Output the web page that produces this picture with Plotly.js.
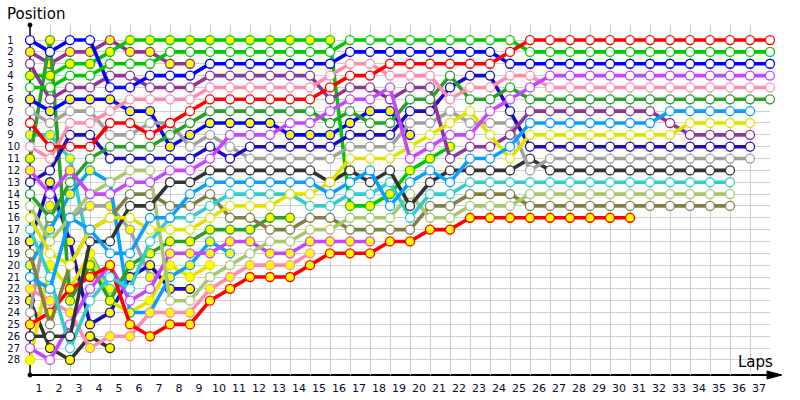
<!DOCTYPE html>
<html><head><meta charset="utf-8">
<script src="https://cdn.plot.ly/plotly-3.0.1.min.js"></script>
<style>html,body{margin:0;padding:0;background:#fff}#chart{width:800px;height:400px}</style>
</head><body><div id="chart"></div>
<script>
// ---- tick labels ----
const lapLabels = ['1','2','3','4','5','6','7','8','9','10','11','12','13','14','15','16','17','18','19','20','21','22','23','24','25','26','27','28','29','30','31','32','33','34','35','36','37'];
const posLabels = ['1','2','3','4','5','6','7','8','9','10','11','12','13','14','15','16','17','18','19','20','21','22','23','24','25','26','27','28'];

// ---- positions per lap (index = lap, lap 0 = grid) ----
const red1 = [8,10,10,10,8,8,9,8,7,6,6,6,6,6,6,5,4,4,3,3,3,3,3,3,2,1,1,1,1,1,1,1,1,1,1,1,1,1];
const lim2 = [5,5,4,4,3,3,3,2,2,2,2,2,2,2,2,2,1,1,1,1,1,1,1,1,1,2,2,2,2,2,2,2,2,2,2,2,2,2];
const blu1 = [1,2,1,1,5,5,4,4,4,3,3,3,3,3,3,3,2,2,2,2,2,2,2,2,3,3,3,3,3,3,3,3,3,3,3,3,3,3];
const vio1 = [12,14,12,14,14,13,13,12,12,11,9,9,9,8,8,7,6,6,5,11,10,9,9,7,6,5,4,4,4,4,4,4,4,4,4,4,4,4];
const pnk1 = [10,11,8,8,7,6,6,6,6,5,5,5,5,5,5,4,3,3,4,4,4,6,5,5,4,4,5,5,5,5,5,5,5,5,5,5,5,5];
const dgr2 = [14,16,13,11,10,10,10,9,8,7,7,7,7,7,7,8,7,8,8,6,6,4,6,6,5,6,6,6,6,6,6,6,6,6,6,6,6,6];
const lbl2 = [21,22,16,17,19,19,16,16,14,13,13,13,13,13,13,14,13,12,15,13,12,13,11,11,10,8,8,8,8,8,8,8,7,7,7,7,7];
const yel1 = [16,19,20,17,16,16,17,17,17,16,15,15,15,14,14,13,11,11,11,10,9,8,7,9,11,9,9,9,9,9,9,9,9,8,8,8,8];
const pur2 = [3,6,5,5,4,4,5,5,5,4,4,4,4,4,4,6,5,5,6,5,5,11,10,10,9,7,7,7,7,7,7,7,8,9,9,9,9];
const nav1 = [13,12,9,9,11,11,11,11,11,10,11,10,10,10,10,10,9,9,9,7,7,5,4,4,7,10,10,10,10,10,10,10,10,10,10,10,10];
const gry1 = [7,8,7,7,9,9,8,8,10,9,10,11,11,11,11,11,10,10,10,8,8,7,8,8,8,12,11,11,11,11,11,11,11,11,11,11,11];
const dgy2 = [26,26,26,18,18,15,15,13,13,12,12,12,12,12,12,13,12,13,12,15,13,12,12,12,12,11,12,12,12,12,12,12,12,12,12,12];
const trq2 = [17,21,27,23,21,22,18,16,16,15,14,14,14,14,15,15,14,14,13,16,14,14,13,13,13,13,13,13,13,13,13,13,13,13,13,13];
const lol  = [15,18,16,14,13,12,12,23,23,21,20,19,18,18,17,17,16,16,16,14,16,16,15,15,15,14,14,14,14,14,14,14,14,14,14,14];
const olv  = [19,25,20,17,16,14,14,15,15,14,16,16,17,17,16,16,17,17,17,17,15,15,14,14,14,15,15,15,15,15,15,15,15,15,15,15];
const red2 = [25,24,22,21,20,25,26,25,25,23,22,21,21,21,20,19,19,19,18,18,17,17,16,16,16,16,16,16,16,16,16];
const lim1 = [4,4,3,3,2,1,1,1,1,1,1,1,1,1,1,1,15,15,14,12,11,10];
const blu2 = [6,7,6,6,6,7,7,10,9,8,8,8,8,9,9,9,8,7,7,9];
const dgr1 = [11,1,23,20,23,20,19,18,18,17,17,17,16,16];
const vio2 = [27,28,25,22,20,23,22,19,19,19,18,18,19,19,18,18,18,18];
const pnk2 = [22,23,24,27,26,26,24,24,24,22,21,20,20,20,19];
const lbl1 = [20,17,14,12,13,24,24,21,20,18,19];
const yel2 = [28,20,22,19,23,24,23,20,21,20];
const pur1 = [2,3,2,2,1,2,2,3,3];
const nav2 = [18,13,18,25,24,21,20,22,22];
const gry2 = [24,15,16,15,15,17,21];
const dgy1 = [23,27,28,26,27];
const trq1 = [9,9,11,19,22];

// laps drawn with a yellow marker
const yl_vio1 = [0,2];
const yl_vio2 = [7,8,9,10,11,12,13,14,15,16,17];
const yl_gry2 = [1,2,3,4,5,6];

// ---- styling ----
const C = {red:'#ff0000', lime:'#00c800', blue:'#0000ff', violet:'#c844ff', pink:'#ff8cae',
  dgreen:'#27a127', lblue:'#08a0ff', yellow:'#e2e200', purple:'#8e3597', navy:'#1c0cc0',
  gray:'#a0a0a0', dgray:'#333333', turq:'#33cccc', lolive:'#a6c86e', olive:'#808045'};

const drivers = [
  [trq1,C.turq,'all'],[dgy1,C.dgray,'all'],[gry2,C.gray,yl_gry2],[nav2,C.navy,'all'],[pur1,C.purple,'all'],
  [yel2,C.yellow,'all'],[lbl1,C.lblue,'all'],[pnk2,C.pink,'all'],[dgr1,C.dgreen,'all'],[vio2,C.violet,yl_vio2],
  [blu2,C.blue,'all'],[lim1,C.lime,'all'],
  [red2,C.red,'all'],[olv,C.olive,[]],[lol,C.lolive,[]],[trq2,C.turq,[]],[dgy2,C.dgray,[]],[gry1,C.gray,[]],
  [nav1,C.navy,[]],[pur2,C.purple,[]],[yel1,C.yellow,[]],[lbl2,C.lblue,[]],[dgr2,C.dgreen,[]],[pnk1,C.pink,[]],
  [vio1,C.violet,yl_vio1],[blu1,C.blue,[]],[lim2,C.lime,[]],[red1,C.red,[]]
];

const traces = drivers.map(([d,col,yl]) => ({
  type:'scatter', mode:'lines+markers',
  x: d.map((_,i)=>i), y: d,
  line:{color:col, width:3.6},
  marker:{symbol:'circle', size:9,
    color: d.map((_,i)=> (yl==='all' || yl.includes(i)) ? '#ffff00' : '#ffffff'),
    line:{color:col, width:1.3}},
  cliponaxis:false, hoverinfo:'skip', showlegend:false
}));

const lapVals = lapLabels.map((_,i)=>i+1);
const posVals = posLabels.map((_,i)=>i+1);
const FS = '\u2007';
const tf = {family:'DejaVu Sans, Verdana, sans-serif', size:10, color:'#0a0a30'};
const yr = [29.27, -0.27];

const layout = {
  width:800, height:400,
  margin:{l:30, r:30, t:25, b:25, pad:0},
  paper_bgcolor:'#ffffff', plot_bgcolor:'#ffffff', showlegend:false,
  xaxis:{range:[0,37], tickmode:'array', tickvals:lapVals, ticktext:lapLabels,
    showgrid:true, gridcolor:'#cfcfcf', gridwidth:1, zeroline:false, showline:false, ticks:'',
    ticklabelshift:-11, ticklabelstandoff:5,
    tickfont:{family:'DejaVu Sans, Verdana, sans-serif', size:11, color:'#0a0a30'}, fixedrange:true},
  yaxis:{range:yr, tickmode:'array', tickvals:posVals,
    ticktext:posLabels.map(s=> s.length<2 ? s+FS : s),
    showgrid:true, gridcolor:'#cfcfcf', gridwidth:1, zeroline:false, showline:false, ticks:'',
    ticklabelstandoff:9, tickfont:tf, fixedrange:true},
  yaxis2:{overlaying:'y', side:'right', anchor:'x', range:yr, tickmode:'array', tickvals:posVals, ticktext:posLabels,
    showgrid:false, zeroline:false, showline:false, ticks:'', ticklabelstandoff:4, tickfont:tf, fixedrange:true},
  shapes:[
    {type:'rect', layer:'between', xref:'paper', yref:'y', x0:0, x1:1, y0:-0.27, y1:0.55, fillcolor:'#ffffff', line:{width:0}},
    {type:'line', layer:'between', xref:'paper', yref:'paper', x0:0, x1:0, y0:0, y1:1, line:{color:'#000000', width:1.5}},
    {type:'line', layer:'between', xref:'paper', yref:'paper', x0:0, x1:1.0108, y0:0, y1:0, line:{color:'#000000', width:2}},
    {type:'path', layer:'above', xref:'paper', yref:'paper', path:'M 0.9960 0.0115 L 1.0160 0 L 0.9960 -0.0115 Z', fillcolor:'#000000', line:{color:'#000000', width:1}},
    {type:'circle', layer:'above', xref:'paper', yref:'paper', x0:-0.0027, x1:0.0027, y0:0.9943, y1:1.0057, fillcolor:'#000000', line:{color:'#000000', width:1}},
    {type:'circle', layer:'above', xref:'paper', yref:'paper', x0:-0.0027, x1:0.0027, y0:-0.0057, y1:0.0057, fillcolor:'#000000', line:{color:'#000000', width:1}}
  ],
  annotations:[
    {text:'Position', xref:'paper', yref:'paper', x:-0.0338, y:1.03, xanchor:'left', yanchor:'middle', showarrow:false,
     font:{family:'DejaVu Sans, Verdana, sans-serif', size:15, color:'#000000'}},
    {text:'Laps', xref:'paper', yref:'paper', x:1.0068, y:0.037, xanchor:'right', yanchor:'middle', showarrow:false,
     font:{family:'DejaVu Sans, Verdana, sans-serif', size:15, color:'#000000'}}
  ]
};

Plotly.newPlot('chart', traces, layout, {staticPlot:true, displayModeBar:false});
</script>
</body></html>
